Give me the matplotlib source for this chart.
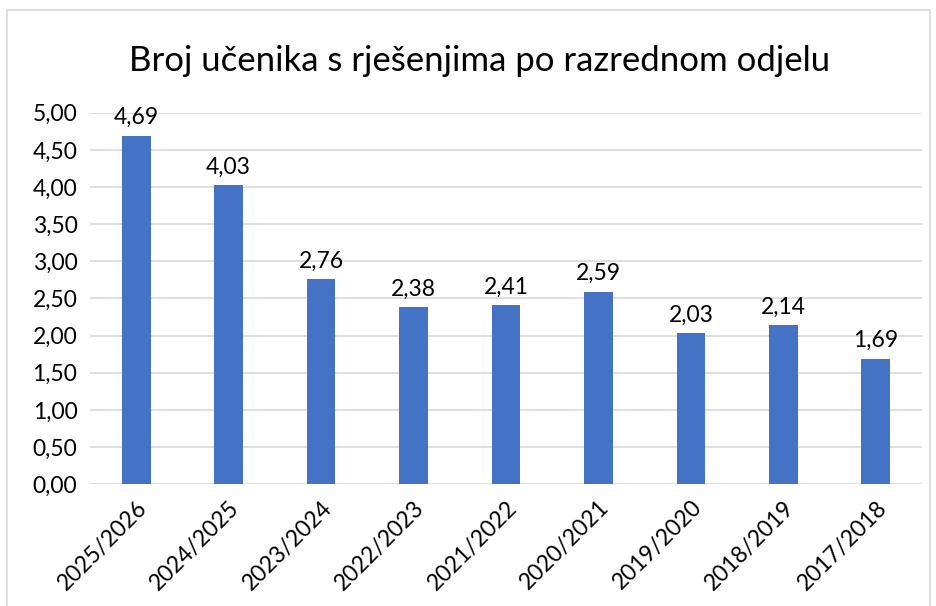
import matplotlib.pyplot as plt
from matplotlib.patches import Rectangle

godine = ['2025/2026', '2024/2025', '2023/2024', '2022/2023', '2021/2022',
          '2020/2021', '2019/2020', '2018/2019', '2017/2018']
vrijednosti = [4.69, 4.03, 2.76, 2.38, 2.41, 2.59, 2.03, 2.14, 1.69]

plt.rcParams['font.family'] = ['Lato', 'DejaVu Sans']

fig = plt.figure(figsize=(9.37, 6.06), dpi=100)
# okvir grafikona
fig.patches.append(Rectangle((7 / 937, -0.01), 923 / 937, 1 - 10 / 606 + 0.01,
                             transform=fig.transFigure, fill=False,
                             edgecolor='#d9d9d9', linewidth=1.2))

ax = fig.add_axes([0.096, 0.201, 0.888, 0.613])
x = range(len(godine))
bars = ax.bar(x, vrijednosti, width=0.31, color='#4472C4', zorder=3)

for b, v in zip(bars, vrijednosti):
    ax.text(b.get_x() + b.get_width() / 2, v + 0.1, f'{v:.2f}'.replace('.', ','),
            ha='center', va='bottom', fontsize=16.5)

ax.set_xlim(-0.5, len(godine) - 0.5)
ax.set_ylim(0, 5)
ax.set_yticks([i * 0.5 for i in range(11)])
ax.set_yticklabels([f'{i * 0.5:.2f}'.replace('.', ',') for i in range(11)], fontsize=16.5)
ax.set_xticks(list(x))
ax.set_xticklabels(godine, rotation=45, ha='right', rotation_mode='anchor', fontsize=16.5)
ax.tick_params(length=0, pad=9)
ax.grid(axis='y', color='#d9d9d9', linewidth=1.2, zorder=0)
for s in ax.spines.values():
    s.set_visible(False)

fig.text(0.512, 0.9, 'Broj učenika s rješenjima po razrednom odjelu',
         ha='center', va='center', fontsize=25)

fig.savefig('out.png', dpi=100)
